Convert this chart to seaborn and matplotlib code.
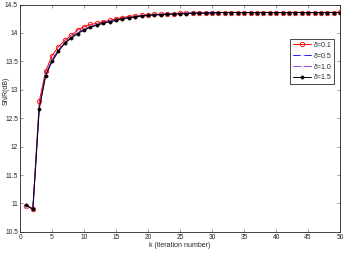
import numpy as np
import pandas as pd
import matplotlib
matplotlib.use("Agg")
import matplotlib.pyplot as plt
import seaborn as sns

k = list(range(1, 51))

snr_d01 = [10.96, 10.91, 12.80, 13.33, 13.60, 13.76, 13.87, 13.96, 14.05, 14.11,
           14.15, 14.17, 14.20, 14.22, 14.25, 14.27, 14.29, 14.30, 14.31, 14.32,
           14.33, 14.33, 14.34, 14.34, 14.35, 14.35, 14.35, 14.35, 14.36, 14.36,
           14.36, 14.36, 14.36, 14.36, 14.36, 14.36, 14.36, 14.36, 14.36, 14.36,
           14.36, 14.36, 14.36, 14.36, 14.36, 14.36, 14.36, 14.36, 14.36, 14.37]
snr_d05 = [10.96, 10.90, 12.70, 13.27, 13.53, 13.70, 13.83, 13.93, 14.01, 14.07,
           14.11, 14.15, 14.18, 14.21, 14.23, 14.25, 14.27, 14.29, 14.30, 14.31,
           14.32, 14.33, 14.33, 14.34, 14.34, 14.35, 14.35, 14.35, 14.35, 14.36,
           14.36, 14.36, 14.36, 14.36, 14.36, 14.36, 14.36, 14.36, 14.36, 14.36,
           14.36, 14.36, 14.36, 14.36, 14.36, 14.36, 14.36, 14.36, 14.36, 14.36]
snr_d10 = [10.96, 10.90, 12.69, 13.26, 13.52, 13.69, 13.83, 13.92, 14.00, 14.06,
           14.11, 14.14, 14.18, 14.20, 14.23, 14.25, 14.27, 14.29, 14.30, 14.31,
           14.32, 14.32, 14.33, 14.34, 14.34, 14.34, 14.35, 14.35, 14.35, 14.35,
           14.36, 14.36, 14.36, 14.36, 14.36, 14.36, 14.36, 14.36, 14.36, 14.36,
           14.36, 14.36, 14.36, 14.36, 14.36, 14.36, 14.36, 14.36, 14.36, 14.36]
snr_d15 = [10.97, 10.90, 12.67, 13.25, 13.50, 13.68, 13.82, 13.91, 13.99, 14.05,
           14.10, 14.14, 14.17, 14.20, 14.22, 14.25, 14.27, 14.28, 14.30, 14.31,
           14.32, 14.32, 14.33, 14.33, 14.34, 14.34, 14.35, 14.35, 14.35, 14.35,
           14.36, 14.36, 14.36, 14.36, 14.36, 14.36, 14.36, 14.36, 14.36, 14.36,
           14.36, 14.36, 14.36, 14.36, 14.36, 14.36, 14.36, 14.36, 14.36, 14.36]

labels = ["δ=0.1", "δ=0.5", "δ=1.0", "δ=1.5"]
series = [snr_d01, snr_d05, snr_d10, snr_d15]

xticks = [0, 5, 10, 15, 20, 25, 30, 35, 40, 45, 50]
yticks = [10.5, 11, 11.5, 12, 12.5, 13, 13.5, 14, 14.5]
xlabel = "k (iteration number)"
ylabel = "SNR(dB)"

sns.set_style("ticks")
plt.rcParams["font.family"] = ["Liberation Sans", "DejaVu Sans"]
plt.rcParams["xtick.direction"] = "in"
plt.rcParams["ytick.direction"] = "in"

fig = plt.figure(figsize=(3.46, 2.54), dpi=100)
ax = fig.add_axes([0.058, 0.087, 0.925, 0.895])

styles = [
    dict(color="#ff0000", marker="o", markersize=3.2, markerfacecolor="none",
         markeredgecolor="#ff0000", markeredgewidth=0.6),
    dict(color="#2020ff", marker="+", markersize=3.0, markeredgewidth=0.6),
    dict(color="#a040e0", marker=".", markersize=1.5),
    dict(color="#000000", marker="o", markersize=2.4, markerfacecolor="#000000",
         markeredgecolor="#000000", markeredgewidth=0.3),
]

for lab, vals, st in zip(labels, series, styles):
    df = pd.DataFrame({"k": k, "snr": vals})
    sns.lineplot(data=df, x="k", y="snr", ax=ax, label=lab, linewidth=0.7, **st)

ax.set_xlim(0, 50)
ax.set_ylim(10.5, 14.5)
ax.set_xticks(xticks)
ax.set_yticks(yticks)
ax.set_xticklabels([str(t) for t in xticks])
ax.set_yticklabels([f"{t:g}" for t in yticks])
ax.tick_params(axis="both", labelsize=4.8, length=2, width=0.4, pad=1.5,
               top=True, right=True, color="#555555")
for sp in ax.spines.values():
    sp.set_linewidth(0.6)
    sp.set_color("#222222")
ax.set_xlabel(xlabel, fontsize=5, labelpad=1)
ax.set_ylabel(ylabel, fontsize=5)
ax.yaxis.set_label_coords(-0.034, 0.62)

leg = ax.legend(loc="upper left", bbox_to_anchor=(0.843, 0.848), fontsize=5,
                frameon=True, fancybox=False, framealpha=1, edgecolor="#000000",
                handlelength=2.6, handletextpad=0.4, borderpad=0.4,
                labelspacing=0.55, borderaxespad=0)
leg.get_frame().set_linewidth(0.5)

fig.savefig("out.png", dpi=100)
